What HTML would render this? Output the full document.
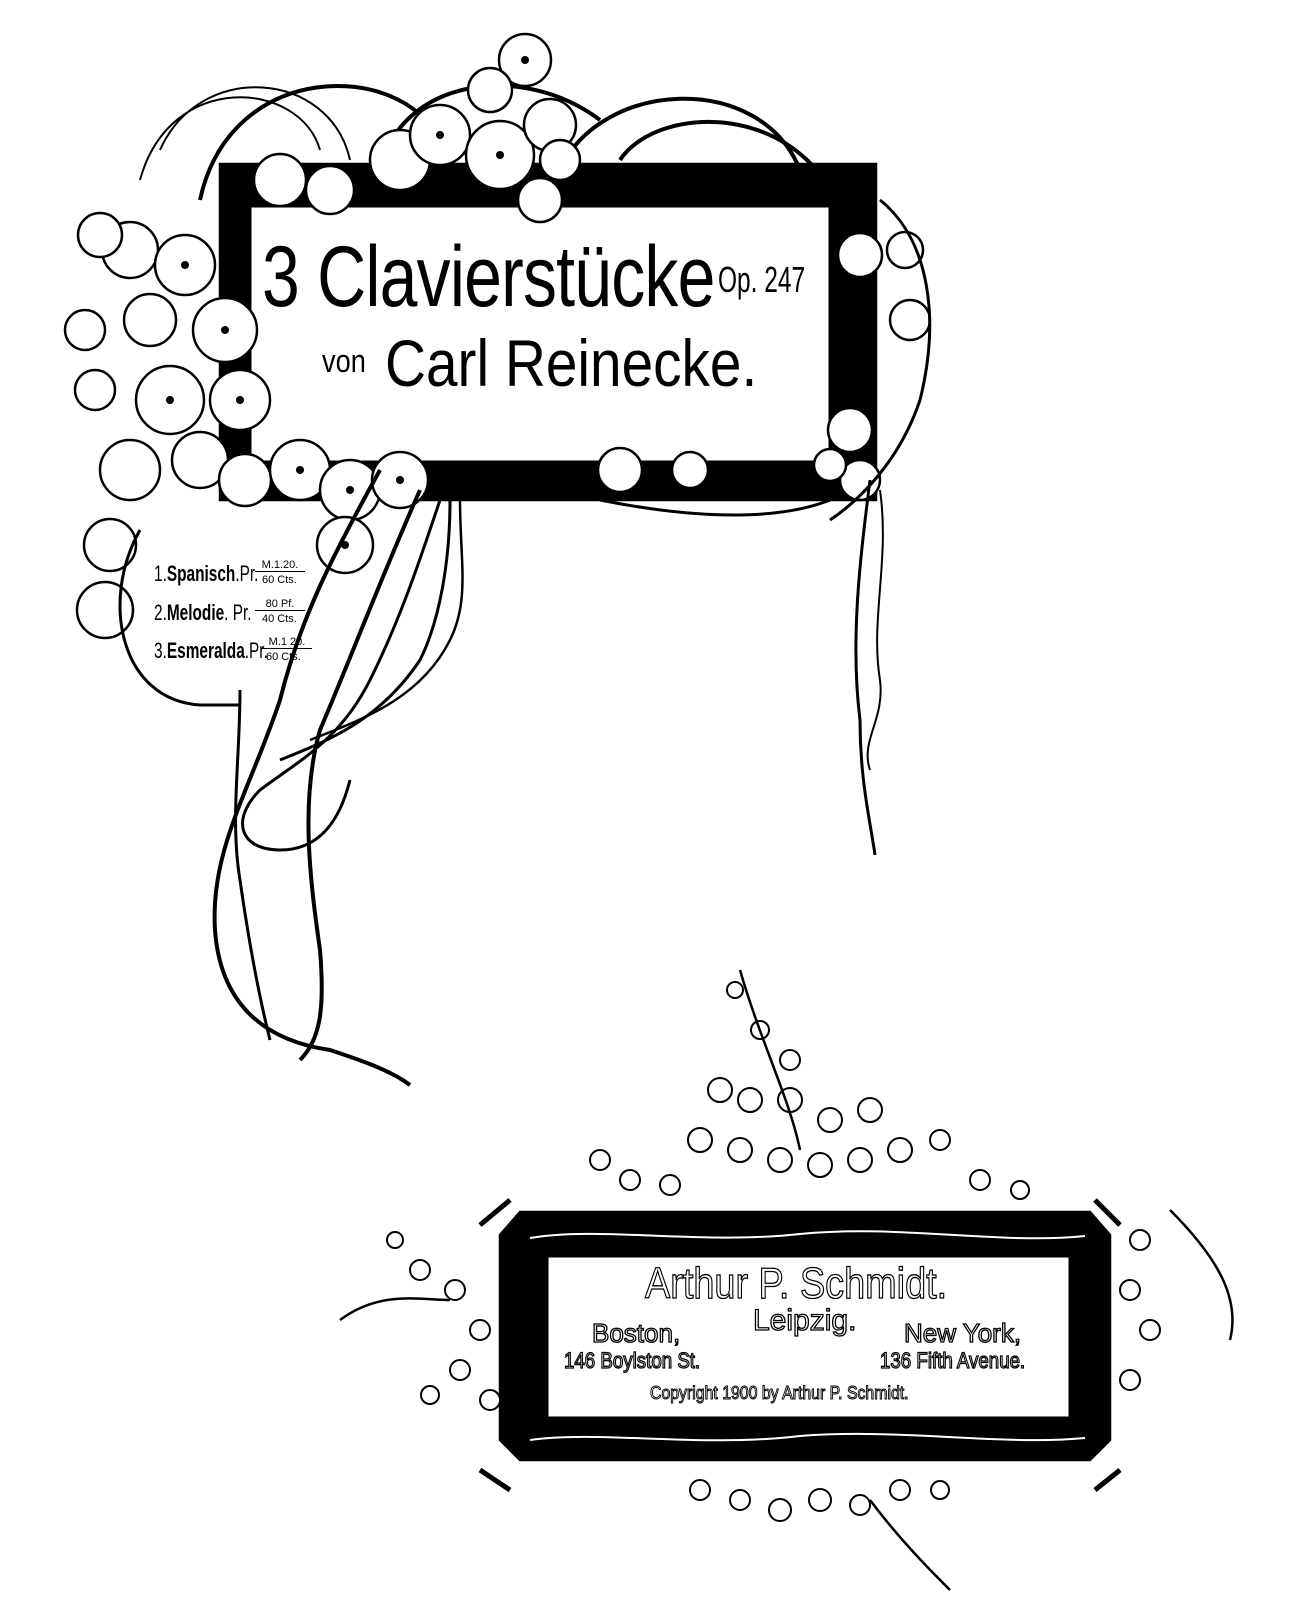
<!DOCTYPE html>
<html><head><meta charset="utf-8"><style>
html,body{margin:0;padding:0;background:#fff;}
body{width:1308px;height:1600px;position:relative;overflow:hidden;font-family:"Liberation Sans",sans-serif;}
svg{position:absolute;left:0;top:0;}
.t{position:absolute;white-space:nowrap;color:#000;line-height:1;}
.o{color:#fff;-webkit-text-stroke:1.3px #000;}
</style></head><body>
<svg width="1308" height="1600" viewBox="0 0 1308 1600" fill="none" stroke="#000" stroke-width="2.5">
<rect x="220" y="164" width="656" height="336" fill="#000"/>
<rect x="250" y="206" width="580" height="256" fill="#fff" stroke="#000" stroke-width="3"/>
<path d="M200 200 C230 60 400 60 440 140 M380 170 C400 80 520 60 600 120 M560 170 C600 80 760 70 800 170 M620 160 C660 100 820 100 850 240" stroke-width="4"/>
<path d="M140 180 C170 70 300 80 320 150 M160 150 C200 60 330 70 350 160" stroke-width="2"/>
<g fill="#fff" stroke-width="2.5">
<circle cx="130" cy="250" r="28"/><circle cx="185" cy="265" r="30"/><circle cx="225" cy="330" r="32"/>
<circle cx="150" cy="320" r="26"/><circle cx="170" cy="400" r="34"/><circle cx="240" cy="400" r="30"/>
<circle cx="130" cy="470" r="30"/><circle cx="200" cy="460" r="28"/><circle cx="245" cy="480" r="26"/>
<circle cx="300" cy="470" r="30"/><circle cx="350" cy="490" r="30"/><circle cx="400" cy="480" r="28"/>
<circle cx="345" cy="545" r="28"/><circle cx="110" cy="545" r="26"/><circle cx="105" cy="610" r="28"/>
<circle cx="100" cy="235" r="22"/><circle cx="85" cy="330" r="20"/><circle cx="95" cy="390" r="20"/>
<circle cx="280" cy="180" r="26"/><circle cx="330" cy="190" r="24"/><circle cx="400" cy="160" r="30"/>
<circle cx="440" cy="135" r="30"/><circle cx="500" cy="155" r="34"/><circle cx="550" cy="125" r="26"/>
<circle cx="525" cy="60" r="26"/><circle cx="490" cy="90" r="22"/><circle cx="540" cy="200" r="22"/>
<circle cx="560" cy="160" r="20"/><circle cx="620" cy="470" r="22"/><circle cx="690" cy="470" r="18"/>
<circle cx="860" cy="255" r="22"/><circle cx="905" cy="250" r="18"/><circle cx="910" cy="320" r="20"/>
<circle cx="850" cy="430" r="22"/><circle cx="860" cy="480" r="20"/><circle cx="830" cy="465" r="16"/>
</g>
<g fill="#000" stroke="none">
<circle cx="185" cy="265" r="4"/><circle cx="225" cy="330" r="4"/><circle cx="170" cy="400" r="4"/><circle cx="240" cy="400" r="4"/>
<circle cx="350" cy="490" r="4"/><circle cx="400" cy="480" r="4"/><circle cx="345" cy="545" r="4"/><circle cx="500" cy="155" r="4"/>
<circle cx="440" cy="135" r="4"/><circle cx="525" cy="60" r="4"/><circle cx="300" cy="470" r="4"/>
</g>
<path d="M140 530 C100 600 120 700 200 705 L240 705" stroke-width="3"/>
<path d="M380 470 C330 560 300 620 280 700 C250 790 210 850 215 930 C220 1000 260 1040 330 1050 C360 1060 390 1070 410 1085" stroke-width="4"/>
<path d="M420 490 C380 580 350 660 320 730 C300 800 310 880 320 950 C325 1010 320 1040 300 1060" stroke-width="4"/>
<path d="M440 500 C420 560 400 620 370 680 C340 740 300 760 260 790 C230 820 240 850 280 850 C320 850 340 820 350 780" stroke-width="3"/>
<path d="M450 500 C450 560 440 620 420 660 C380 720 330 740 280 760" stroke-width="3"/>
<path d="M460 500 C460 560 470 600 450 640 C420 700 360 720 310 740" stroke-width="2.5"/>
<path d="M240 690 C240 760 230 820 240 880 C250 950 260 1000 270 1040" stroke-width="3"/>
<path d="M870 480 C860 560 850 640 860 720 C860 780 870 820 875 855" stroke-width="3"/>
<path d="M880 490 C890 560 870 620 880 680 C885 720 860 740 870 770" stroke-width="2"/>
<path d="M830 500 C780 520 700 520 600 500 M880 200 C930 240 940 320 920 400 C900 460 860 500 830 520" stroke-width="3"/>
<path d="M500 1235 L520 1212 L1090 1212 L1110 1235 L1110 1440 L1090 1460 L520 1460 L500 1440 Z" fill="#000"/>
<path d="M480 1225 L510 1200 M1120 1225 L1095 1200 M480 1470 L510 1490 M1120 1470 L1095 1490" stroke-width="5"/>
<rect x="547" y="1256" width="523" height="162" fill="#fff" stroke="#000" stroke-width="3"/>
<path d="M530 1238 C600 1226 700 1245 800 1234 C900 1224 1000 1245 1085 1236 M530 1440 C600 1430 700 1448 800 1436 C900 1428 1000 1446 1085 1438" stroke="#fff" stroke-width="2"/>
<g fill="#fff" stroke-width="2">
<circle cx="735" cy="990" r="8"/><circle cx="760" cy="1030" r="9"/><circle cx="790" cy="1060" r="10"/><circle cx="720" cy="1090" r="12"/>
<circle cx="750" cy="1100" r="12"/><circle cx="790" cy="1100" r="12"/><circle cx="830" cy="1120" r="12"/><circle cx="870" cy="1110" r="12"/>
<circle cx="700" cy="1140" r="12"/><circle cx="740" cy="1150" r="12"/><circle cx="780" cy="1160" r="12"/><circle cx="820" cy="1165" r="12"/>
<circle cx="860" cy="1160" r="12"/><circle cx="900" cy="1150" r="12"/><circle cx="940" cy="1140" r="10"/><circle cx="600" cy="1160" r="10"/>
<circle cx="630" cy="1180" r="10"/><circle cx="670" cy="1185" r="10"/><circle cx="980" cy="1180" r="10"/><circle cx="1020" cy="1190" r="9"/>
<circle cx="395" cy="1240" r="8"/><circle cx="420" cy="1270" r="10"/><circle cx="455" cy="1290" r="10"/><circle cx="480" cy="1330" r="10"/>
<circle cx="460" cy="1370" r="10"/><circle cx="430" cy="1395" r="9"/><circle cx="490" cy="1400" r="10"/>
<circle cx="1140" cy="1240" r="10"/><circle cx="1130" cy="1290" r="10"/><circle cx="1150" cy="1330" r="10"/><circle cx="1130" cy="1380" r="10"/>
<circle cx="700" cy="1490" r="10"/><circle cx="740" cy="1500" r="10"/><circle cx="780" cy="1510" r="11"/><circle cx="820" cy="1500" r="11"/>
<circle cx="860" cy="1505" r="10"/><circle cx="900" cy="1490" r="10"/><circle cx="940" cy="1490" r="9"/>
</g>
<path d="M340 1320 C380 1290 420 1300 450 1300 M1170 1210 C1220 1260 1240 1300 1230 1340 M870 1500 C900 1540 930 1570 950 1590 M740 970 C760 1040 790 1100 800 1150" stroke-width="2.5"/>
</svg>

<div class="t" style="left:262px;top:234px;font-size:86px;transform:scaleX(0.79);transform-origin:0 0;letter-spacing:-1px;">3 Clavierstücke</div>
<div class="t" style="left:718px;top:262px;font-size:36px;transform:scaleX(0.68);transform-origin:0 0;">Op. 247</div>
<div class="t" style="left:322px;top:345px;font-size:32px;transform:scaleX(0.85);transform-origin:0 0;">von</div>
<div class="t" style="left:385px;top:330px;font-size:66px;transform:scaleX(0.86);transform-origin:0 0;">Carl Reinecke.</div>

<div class="t" style="left:154px;top:563px;font-size:22px;transform:scaleX(0.7);transform-origin:0 0;">1.<b>Spanisch</b>.Pr.</div>
<div class="t" style="left:154px;top:602px;font-size:22px;transform:scaleX(0.7);transform-origin:0 0;">2.<b>Melodie</b>. Pr.</div>
<div class="t" style="left:154px;top:640px;font-size:22px;transform:scaleX(0.7);transform-origin:0 0;">3.<b>Esmeralda</b>.Pr.</div>
<div class="t" style="left:255px;top:560px;font-size:11px;border-bottom:1.5px solid #000;width:50px;text-align:center;">M.1.20.</div>
<div class="t" style="left:262px;top:575px;font-size:11px;">60 Cts.</div>
<div class="t" style="left:255px;top:599px;font-size:11px;border-bottom:1.5px solid #000;width:50px;text-align:center;">80 Pf.</div>
<div class="t" style="left:262px;top:614px;font-size:11px;">40 Cts.</div>
<div class="t" style="left:262px;top:637px;font-size:11px;border-bottom:1.5px solid #000;width:50px;text-align:center;">M.1 20.</div>
<div class="t" style="left:266px;top:652px;font-size:11px;">60 Cts.</div>

<div class="t o" style="left:645px;top:1262px;font-size:44px;transform:scaleX(0.86);transform-origin:0 0;">Arthur P. Schmidt.</div>
<div class="t o" style="left:753px;top:1306px;font-size:30px;">Leipzig.</div>
<div class="t o" style="left:592px;top:1320px;font-size:26px;">Boston,</div>
<div class="t o" style="left:904px;top:1320px;font-size:26px;">New York,</div>
<div class="t o" style="left:564px;top:1350px;font-size:22px;transform:scaleX(0.85);transform-origin:0 0;">146 Boylston St.</div>
<div class="t o" style="left:880px;top:1350px;font-size:22px;transform:scaleX(0.85);transform-origin:0 0;">136 Fifth Avenue.</div>
<div class="t o" style="left:650px;top:1384px;font-size:18px;-webkit-text-stroke:1px #000;transform:scaleX(0.88);transform-origin:0 0;">Copyright 1900 by Arthur P. Schmidt.</div>
</body></html>
